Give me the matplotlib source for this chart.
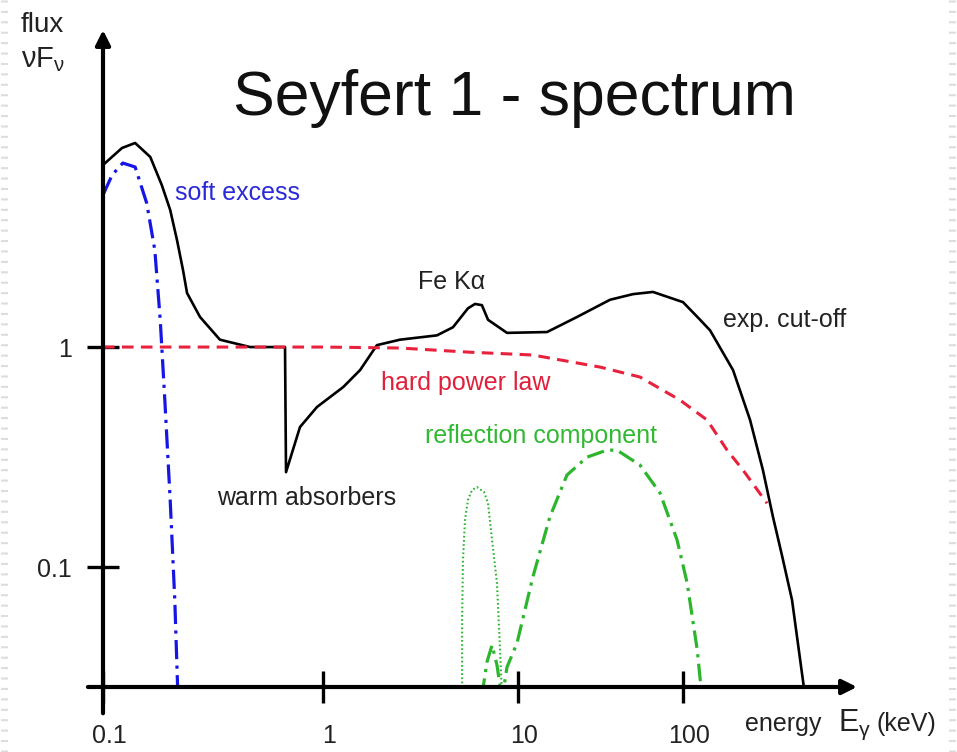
#!/usr/bin/env python3

import numpy as np
import matplotlib
matplotlib.use("Agg")
from matplotlib import pyplot as plt
from matplotlib.lines import Line2D
from matplotlib.ticker import FixedLocator, NullLocator
from matplotlib.transforms import ScaledTranslation

W, H, DPI = 957, 752, 100

# total spectrum (black)
total_e = [0.1, 0.122, 0.140, 0.164, 0.185, 0.202, 0.217, 0.231, 0.241, 0.276,
           0.340, 0.466, 0.672, 0.679, 0.786, 0.939, 1.27, 1.55, 1.89, 2.48,
           3.84, 4.64, 5.54, 6.02, 6.53, 7.02, 8.78, 15.0, 22.8, 36.1, 49.8,
           65.8, 100, 127, 146, 201, 255, 305, 351, 398, 458, 549]
total_f = [6.72, 8.03, 8.46, 7.31, 5.45, 4.20, 3.06, 2.24, 1.76, 1.37,
           1.08, 1.0, 1.0, 0.270, 0.433, 0.534, 0.658, 0.786, 1.02, 1.08,
           1.13, 1.23, 1.50, 1.57, 1.55, 1.33, 1.16, 1.17, 1.37, 1.64, 1.74,
           1.78, 1.60, 1.33, 1.19, 0.786, 0.466, 0.276, 0.169, 0.113, 0.0708, 0.026]

# hard power law (red dashed)
power_e = [0.1, 0.5, 1.0, 2.48, 5.47, 12.3, 31.4, 54.8, 95.9, 140, 185, 231, 323]
power_f = [1.0, 1.0, 1.0, 0.99, 0.949, 0.92, 0.811, 0.731, 0.574, 0.466, 0.340, 0.276, 0.195]

# soft excess (blue dash-dot)
soft_e = [0.1, 0.110, 0.123, 0.140, 0.158, 0.172, 0.182, 0.191, 0.202, 0.212, 0.219]
soft_f = [4.91, 6.05, 6.86, 6.58, 4.51, 2.76, 1.33, 0.574, 0.202, 0.0708, 0.026]

# Fe K alpha line of the reflection (green dotted)
line_e = [5.17, 5.17, 5.22, 5.35, 5.54, 5.81, 6.16, 6.70, 7.02, 7.36, 7.80, 8.09, 8.28]
line_f = [0.026, 0.0574, 0.1076, 0.164, 0.202, 0.224, 0.231, 0.219, 0.195, 0.133, 0.0846, 0.042, 0.026]

# reflection continuum (green dash-dot)
refl_e = [6.53, 6.93, 7.36, 7.80, 8.28, 8.78, 9.88, 12.3, 15.6, 19.8, 26.2, 34.6,
          39.8, 54.8, 72.6, 92.0, 106, 122, 130]
refl_f = [0.026, 0.037, 0.0442, 0.0359, 0.025, 0.0351, 0.0451, 0.0901, 0.169, 0.262,
          0.316, 0.340, 0.340, 0.291, 0.217, 0.133, 0.0846, 0.042, 0.026]

x_ticks = [0.1, 1, 10, 100]
x_ticklabels = ["0.1", "1", "10", "100"]
y_ticks = [0.1, 1]
y_ticklabels = ["0.1", "1"]

# the hand-drawn energy axis: pixels per decade differ between decades
DECADE_PX = [220, 195, 165]


def energy_fwd(e):
	lg = np.log10(np.clip(np.asarray(e, dtype=float), 1e-9, None))
	a = (lg + 1) * DECADE_PX[0]
	b = DECADE_PX[0] + lg * DECADE_PX[1]
	c = DECADE_PX[0] + DECADE_PX[1] + (lg - 1) * DECADE_PX[2]
	return np.where(lg < 0, a, np.where(lg < 1, b, c))


def energy_inv(p):
	p = np.asarray(p, dtype=float)
	p1 = DECADE_PX[0]
	p2 = DECADE_PX[0] + DECADE_PX[1]
	lg = np.where(p < p1, p / p1 - 1,
		np.where(p < p2, (p - p1) / DECADE_PX[1], 1 + (p - p2) / DECADE_PX[2]))
	return 10 ** lg


def fig_xy(px, py):
	return px / W, 1 - py / H


plt.rcParams["font.family"] = ["Liberation Sans", "DejaVu Sans"]
plt.rcParams["mathtext.fontset"] = "custom"
plt.rcParams["mathtext.rm"] = "Liberation Sans"

fig = plt.figure(figsize=(W / DPI, H / DPI), dpi=DPI)
ax = fig.add_axes([103 / W, 1 - 687 / H, 754 / W, 657 / H])

ax.set_xscale("function", functions=(energy_fwd, energy_inv))
ax.set_yscale("log")
ax.set_xlim(0.1, float(energy_inv(754)))
ax.set_ylim(10 ** -1.545, 10 ** (317 / 220))

ax.plot(total_e, total_f, color="black", lw=1.9, solid_joinstyle="round")
ax.plot(power_e, power_f, color="#e8213d", lw=2.2, dashes=(3.8, 2.4))
ax.plot(soft_e, soft_f, color="#1515e6", lw=2.3, dashes=(6, 2, 1, 2))
ax.plot(line_e, line_f, color="#2db52d", lw=1.5, dashes=(0.8, 1.2))
ax.plot(refl_e, refl_f, color="#2db52d", lw=2.3, dashes=(5.5, 2, 1, 2))

for s in ax.spines.values():
	s.set_visible(False)

arrow = dict(arrowstyle="-|>", lw=3, color="black", mutation_scale=22, shrinkA=0, shrinkB=0)
ax.annotate("", xy=(1, 0), xytext=(-0.02, 0), xycoords="axes fraction", arrowprops=arrow)
ax.annotate("", xy=(0, 1), xytext=(0, -0.04), xycoords="axes fraction", arrowprops=arrow)

ax.xaxis.set_major_locator(FixedLocator(x_ticks))
ax.xaxis.set_minor_locator(NullLocator())
ax.set_xticklabels(x_ticklabels)
ax.yaxis.set_major_locator(FixedLocator(y_ticks))
ax.yaxis.set_minor_locator(NullLocator())
ax.set_yticklabels(y_ticklabels)
ax.tick_params(direction="inout", length=23, width=2.4, labelsize=18,
	labelcolor="#222222", color="black")
ax.tick_params(axis="x", pad=15)
ax.tick_params(axis="y", pad=11)
shift = ScaledTranslation(6 / DPI, 0, fig.dpi_scale_trans)
for lab in ax.get_xticklabels():
	lab.set_transform(lab.get_transform() + shift)

# labels
fig.text(*fig_xy(233, 115), "Seyfert 1 - spectrum", fontsize=45, color="#111111", va="baseline")
fig.text(*fig_xy(21, 32), "flux", fontsize=20, color="#222222", va="baseline")
fig.text(*fig_xy(21, 67), r"$\mathregular{νF_ν}$", fontsize=21, color="#222222", va="baseline")
fig.text(*fig_xy(175, 200), "soft excess", fontsize=18, color="#2a2ad8", va="baseline")
fig.text(*fig_xy(418, 289), "Fe Kα", fontsize=18, color="#222222", va="baseline")
fig.text(*fig_xy(723, 327), "exp. cut-off", fontsize=18, color="#222222", va="baseline")
fig.text(*fig_xy(381, 390), "hard power law", fontsize=18, color="#e0203a", va="baseline")
fig.text(*fig_xy(425, 443), "reflection component", fontsize=18, color="#33b833", va="baseline")
fig.text(*fig_xy(217, 505), "warm absorbers", fontsize=18, color="#222222", va="baseline")
fig.text(*fig_xy(745, 731), "energy", fontsize=18, color="#222222", va="baseline")
fig.text(*fig_xy(838, 731), r"$\mathregular{E_γ}$", fontsize=22, color="#222222", va="baseline")
fig.text(*fig_xy(876, 731), "(keV)", fontsize=18, color="#222222", va="baseline")

# faint dashed page border on both sides
for bx in (4, 952):
	fig.add_artist(Line2D([bx / W, bx / W], [0, 1], transform=fig.transFigure,
		color="#dddddd", lw=5, dashes=(0.3, 1.2)))

fig.savefig("out.png", dpi=DPI)
plt.close(fig)
